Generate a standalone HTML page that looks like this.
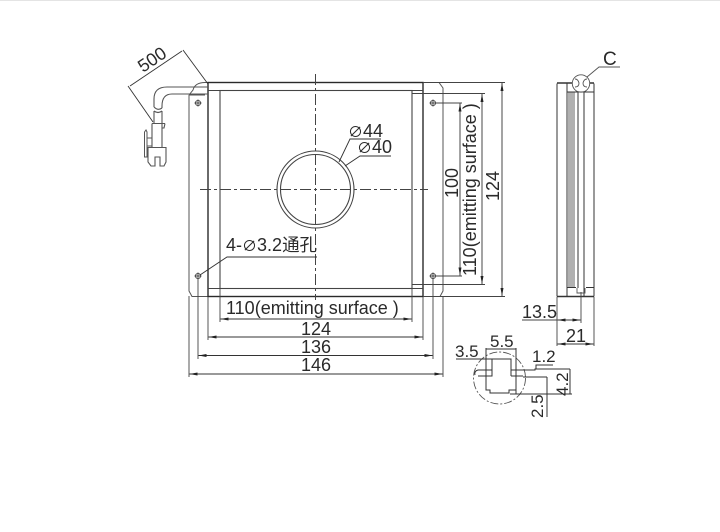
<!DOCTYPE html>
<html><head><meta charset="utf-8"><style>
html,body{margin:0;padding:0;background:#fff}
svg{display:block}
text{font-family:"Liberation Sans","Noto Sans CJK SC",sans-serif;fill:#2a2a2a;font-size:18px}
</style></head><body>
<svg width="720" height="532" viewBox="0 0 720 532" xmlns="http://www.w3.org/2000/svg">
<rect x="0" y="0" width="720" height="1" fill="#e4e4e4"/>
<defs>
<marker id="a" markerWidth="9" markerHeight="6" refX="8" refY="3" orient="auto-start-reverse" markerUnits="userSpaceOnUse"><path d="M8 3L0 1.5V4.5Z" fill="#222"/></marker>
</defs>
<g fill="none" stroke="#555" stroke-width="1">
<!-- plate -->
<path d="M189 95V291L192 296.5H440L443 291V88L439 82.5H208"/>
<path d="M189 95H205M189 95L193 90Q195 82.5 205 82.5H208"/>
</g>
<!-- main frame -->
<g fill="none" stroke="#2a2a2a" stroke-width="1.4">
<rect x="208" y="82.5" width="215" height="214"/>
</g>
<g fill="none" stroke="#444" stroke-width="1.1">
<rect x="220" y="90.5" width="192" height="198"/>
<path d="M208 90.5H220M412 90.5H423M208 288.5H220M412 288.5H423"/>
<circle cx="315.5" cy="189.5" r="38.5"/>
<circle cx="315.5" cy="189.5" r="35"/>
</g>
<!-- center lines -->
<g stroke="#444" stroke-width="1" stroke-dasharray="11 3 3 3" fill="none">
<path d="M315.5 74V300"/>
<path d="M200 189.5H428"/>
</g>
<!-- holes -->
<g fill="none" stroke="#444" stroke-width=".9">
<circle cx="198" cy="103" r="2.6"/><path d="M194.5 103H201.5M198 99.5V106.5"/>
<circle cx="433" cy="103" r="2.6"/><path d="M429.5 103H436.5M433 99.5V106.5"/>
<circle cx="198" cy="276" r="2.6"/><path d="M194.5 276H201.5M198 272.5V279.5"/>
<circle cx="433" cy="276" r="2.6"/><path d="M429.5 276H436.5M433 272.5V279.5"/>
</g>
<!-- cable and connector -->
<g fill="none" stroke="#555" stroke-width="1.1">
<path d="M208 87H167Q154 87 154 99V107"/>
<path d="M208 94H172Q162 94 162 106V108"/>
<path d="M154 107Q158 111 162 108"/>
<path d="M154 111Q158 114 162 111"/>
<path d="M154 111V123M162 111V123"/>
<path d="M152 123.5H165M152 123.5V147.5M162 123.5V147.5M165 123.5L164 128H162"/>
<path d="M148 147.5H166V162L164 166H160V157H155V166H151L148 162Z"/>
<path d="M144.5 132L146 130L147 132V157H144.5Z" stroke-width="1"/>
<path d="M147 138H152M147 146H152"/>
</g>
<!-- 500 dim -->
<g fill="none" stroke="#333" stroke-width=".9">
<path d="M128 86L153 122"/>
<path d="M183 50L208 84"/>
<path d="M130 86L182 51"/>
</g>
<text transform="translate(143,73) rotate(-34)">500</text>
<!-- labels circle -->
<g fill="none" stroke="#333" stroke-width=".9">
<path d="M339 162L350 139H381"/>
<path d="M345 166L360 156H391"/>
</g>
<text x="348" y="137"><tspan style="font-size:15px">∅</tspan>44</text>
<text x="357" y="153"><tspan style="font-size:15px">∅</tspan>40</text>
<!-- 4-holes label -->
<path d="M200 275L227 257H317" fill="none" stroke="#333" stroke-width=".9"/>
<text x="226" y="251">4-<tspan style="font-size:15px">∅</tspan>3.2<tspan style="font-size:17.5px">通孔</tspan></text>
<!-- bottom dims -->
<g fill="none" stroke="#444" stroke-width=".9">
<path d="M220 289V322"/><path d="M412 289V322"/>
<path d="M208 297V340"/><path d="M423 297V340"/>
<path d="M198 279V359"/><path d="M433 279V359"/>
<path d="M189 296V377"/><path d="M443 296V377"/>
</g>
<g stroke="#333" stroke-width=".9" fill="none">
<path d="M220.5 319H411.5" marker-start="url(#a)" marker-end="url(#a)"/>
<path d="M208.5 337H422.5" marker-start="url(#a)" marker-end="url(#a)"/>
<path d="M198.5 355.5H432.5" marker-start="url(#a)" marker-end="url(#a)"/>
<path d="M189.5 374H442.5" marker-start="url(#a)" marker-end="url(#a)"/>
</g>
<text x="226" y="314">110(emitting surface )</text>
<text x="301" y="335">124</text>
<text x="301" y="353">136</text>
<text x="301" y="371">146</text>
<!-- right dims -->
<g fill="none" stroke="#444" stroke-width=".9">
<path d="M434 103H462"/><path d="M434 276H462"/>
<path d="M412 93.5H485"/><path d="M412 284.5H485"/>
<path d="M423 82.5H505"/><path d="M423 296.5H505"/>
</g>
<g stroke="#333" stroke-width=".9" fill="none">
<path d="M460 103.5V275.5" marker-start="url(#a)" marker-end="url(#a)"/>
<path d="M482 94V284" marker-start="url(#a)" marker-end="url(#a)"/>
<path d="M502 83V296" marker-start="url(#a)" marker-end="url(#a)"/>
</g>
<text transform="translate(458,198) rotate(-90)">100</text>
<text transform="translate(476,276) rotate(-90)">110(emitting surface )</text>
<text transform="translate(499,201) rotate(-90)">124</text>
<!-- side view -->
<rect x="568" y="92" width="7" height="195" fill="#b0b0b0"/>
<g fill="none" stroke="#333" stroke-width="1">
<path d="M557 83.5V296.5M594 83.5V296.5"/>
<path d="M567 83V296M578 92V288M584 92V296"/>
<path d="M557 83H594" stroke-width="1.5"/>
<path d="M567 92H594M567 287.5H576M586 287.5H594"/>
<path d="M557 296.5H594" stroke-width="1.4"/>
</g>
<g fill="none" stroke="#555" stroke-width=".9">
<circle cx="581" cy="83.5" r="8.7" fill="#fff"/>
<path d="M575 79Q578 79 579 83Q579 87 575 87M587 79Q584 79 583 83Q583 87 587 87M576 91Q581 93 586 91"/>
<path d="M587 77L599 67H620"/>
<path d="M577 288V293H585V288"/>
</g>
<text x="603" y="65" style="font-size:19px">C</text>
<!-- side dims -->
<g fill="none" stroke="#444" stroke-width=".9">
<path d="M557 297V346"/><path d="M594 297V346"/><path d="M581 292V323"/>
<path d="M522 320H557"/>
</g>
<g stroke="#333" stroke-width=".9" fill="none">
<path d="M557.5 320H580.5" marker-start="url(#a)" marker-end="url(#a)"/>
<path d="M557.5 344H593.5" marker-start="url(#a)" marker-end="url(#a)"/>
</g>
<text x="522" y="318">13.5</text>
<text x="566" y="342">21</text>
<!-- detail -->
<circle cx="499.5" cy="378" r="26" fill="none" stroke="#555" stroke-width=".9" stroke-dasharray="8 2 2 2"/>
<g fill="none" stroke="#333" stroke-width="1">
<!-- profile -->
<path d="M486 348V390H490V393H509V390H516"/>
<path d="M492 370V359H511V370"/>
<path d="M475 375Q474 371 478 370H492V376H478"/>
<path d="M486 370V376"/>
<path d="M511 370H535V369H570M511 376H523M523 377H547"/>
<path d="M511 370V376"/>
<path d="M516 348V394"/>
<path d="M510 394H572"/>
<path d="M456 359H492"/>
<path d="M486 349H516"/>
<path d="M536 369V365H553"/>
<path d="M570 369V394"/>
<path d="M547 377V417"/>
</g>
<text x="490" y="347" style="font-size:17px">5.5</text>
<text x="455" y="357" style="font-size:17px">3.5</text>
<text x="532" y="362" style="font-size:17px">1.2</text>
<text transform="translate(568,396) rotate(-90)" style="font-size:17px">4.2</text>
<text transform="translate(543,418) rotate(-90)" style="font-size:17px">2.5</text>
</svg>
</body></html>
